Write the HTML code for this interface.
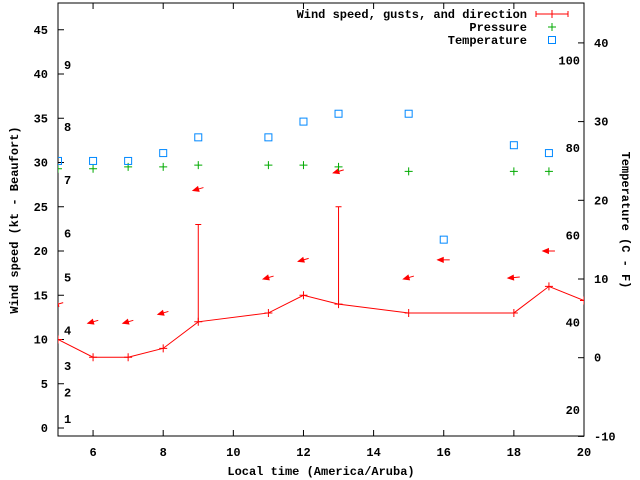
<!DOCTYPE html>
<html><head><meta charset="utf-8"><style>
body{margin:0;background:#fff}
svg{display:block;font-family:"Liberation Mono",monospace;font-weight:bold;font-size:12px}
</style></head><body>
<svg id="c" width="640" height="480" xmlns="http://www.w3.org/2000/svg"></svg>
<script>
const hours=[5,6,7,8,9,11,12,13,15,18,19,20];
const windSpeed=[10,8,8,9,12,13,15,14,13,13,16,14.4];
const gustHours=[9,13];
const gustValues=[23,25];
const arrowHours=[5,6,7,8,9,11,12,13,15,16,18,19];
const arrowValues=[14,12,12,13,27,17,19,29,17,19,17,20];
const arrowDirs=[120,120,120,120,120,120,120,120,120,90,100,90];
const pressHours=[5,6,7,8,9,11,12,13,15,18,19];
const pressValues=[29.3,29.3,29.5,29.5,29.7,29.7,29.7,29.5,29.0,29.0,29.0];
const tempHours=[5,6,7,8,9,11,12,13,15,16,18,19];
const tempValues=[25,25,25,26,28,28,30,31,31,15,27,26];
const xTicks=[6,8,10,12,14,16,18,20];
const yTicks=[0,5,10,15,20,25,30,35,40,45];
const cTicks=[-10,0,10,20,30,40];
const fTicks=[20,40,60,80,100];
const beaufort=[1,4,7,11,17,22,28,34,41];

const L=58,R=584,T=3,B=436;
const X=h=>L+(h-5)*(R-L)/15;
const Y=v=>428-v*8.85;
const YC=c=>357.7-c*7.87;
const svg=document.getElementById('c');
const NS='http://www.w3.org/2000/svg';
function mk(tag,a,parent){const e=document.createElementNS(NS,tag);for(const k in a)e.setAttribute(k,a[k]);(parent||svg).appendChild(e);return e;}

let g=mk('g',{});


let fr=mk('rect',{x:L,y:T,width:R-L,height:B-T,fill:'none',stroke:'#000'},g);


xTicks.forEach(h=>{
  mk('line',{x1:X(h),x2:X(h),y1:B,y2:B-6,stroke:'#000'},g);
  mk('line',{x1:X(h),x2:X(h),y1:T,y2:T+6,stroke:'#000'},g);
  const t=mk('text',{x:X(h),y:B+20,'text-anchor':'middle'},g);t.textContent=h;
  
  
});
yTicks.forEach(v=>{
  mk('line',{x1:L,x2:L+6,y1:Y(v),y2:Y(v),stroke:'#000'},g);
  const t=mk('text',{x:L-10,y:Y(v)+4,'text-anchor':'end'},g);t.textContent=v;
  
  
});
cTicks.forEach(v=>{
  mk('line',{x1:R,x2:R-6,y1:YC(v),y2:YC(v),stroke:'#000'},g);
  const t=mk('text',{x:R+10,y:YC(v)+4},g);t.textContent=v;
  
  
});
fTicks.forEach(f=>{
  const t=mk('text',{x:R-4,y:YC((f-32)*5/9)+4,'text-anchor':'end'},g);t.textContent=f;
  
  
});
beaufort.forEach((v,i)=>{
  const t=mk('text',{x:64,y:Y(v)+4},g);t.textContent=i+1;
  
  
});
let t1=mk('text',{x:321,y:475,'text-anchor':'middle'});t1.textContent='Local time (America/Aruba)';


let t2=mk('text',{x:0,y:0,'text-anchor':'middle',transform:'translate(18,220) rotate(-90)'});t2.textContent='Wind speed (kt - Beaufort)';


let t3=mk('text',{x:0,y:0,'text-anchor':'middle',transform:'translate(622,220) rotate(90)'});t3.textContent='Temperature (C - F)';



// clip
const cp=mk('clipPath',{id:'cp'});mk('rect',{x:L,y:T,width:R-L,height:B-T},cp);
const pg=mk('g',{'clip-path':'url(#cp)'});



// wind line
let pl=mk('polyline',{points:hours.map((h,i)=>X(h)+','+Y(windSpeed[i])).join(' '),fill:'none',stroke:'#f00'},pg);


hours.forEach((h,i)=>{
  const p=mk('path',{d:`M${X(h)-4},${Y(windSpeed[i])}h8M${X(h)},${Y(windSpeed[i])-4}v8`,stroke:'#f00'},pg);
  
  
});
gustHours.forEach((h,i)=>{
  const w=windSpeed[hours.indexOf(h)];
  const p=mk('path',{d:`M${X(h)},${Y(w)}V${Y(gustValues[i])}M${X(h)-3},${Y(gustValues[i])}h6`,stroke:'#f00'},pg);
  
  
});
arrowHours.forEach((h,i)=>{
  const cx=X(h),cy=Y(arrowValues[i]);
  const a=arrowDirs[i]*Math.PI/180;
  const dx=-Math.sin(a)*7,dy=-Math.cos(a)*7;
  // head at (cx+dx', ...): arrow points toward direction "from" wind blows to (WNW/NW)
  const hx=cx-Math.sin(a)*6,hy=cy-Math.cos(a)*6*0.5;
  const tx=cx+Math.sin(a)*6,ty=cy+Math.cos(a)*6*0.5;
  const ang=Math.atan2(hy-ty,hx-tx);
  const gg=mk('g',{},pg);
  
  
  mk('line',{x1:tx,y1:ty,x2:hx,y2:hy,stroke:'#f00'},gg);
  const l=6;
  const p1=[hx-l*Math.cos(ang-0.4),hy-l*Math.sin(ang-0.4)],p2=[hx-l*Math.cos(ang+0.4),hy-l*Math.sin(ang+0.4)];
  mk('polygon',{points:`${hx},${hy} ${p1} ${p2}`,fill:'#f00',stroke:'#f00'},gg);
});
pressHours.forEach((h,i)=>{
  const p=mk('path',{d:`M${X(h)-4},${Y(pressValues[i])}h8M${X(h)},${Y(pressValues[i])-4}v8`,stroke:'#0a0'},pg);
  
  
});
tempHours.forEach((h,i)=>{
  const r=mk('rect',{x:X(h)-3.5,y:YC(tempValues[i])-3.5,width:7,height:7,fill:'none',stroke:'#08f'},pg);
  
  
});

// legend
const lg=mk('g',{});


[['Wind speed, gusts, and direction',14],['Pressure',27],['Temperature',40]].forEach(([s,y],i)=>{
  const t=mk('text',{x:527,y:y+4,'text-anchor':'end'},lg);t.textContent=s;
  
  
});
mk('path',{d:'M536,14h32M536,11v6M568,11v6M552,10v8',stroke:'#f00'},lg);
mk('path',{d:'M548,27h8M552,23v8',stroke:'#0a0'},lg);
mk('rect',{x:548.5,y:36.5,width:7,height:7,fill:'none',stroke:'#08f'},lg);
</script>
</body></html>
